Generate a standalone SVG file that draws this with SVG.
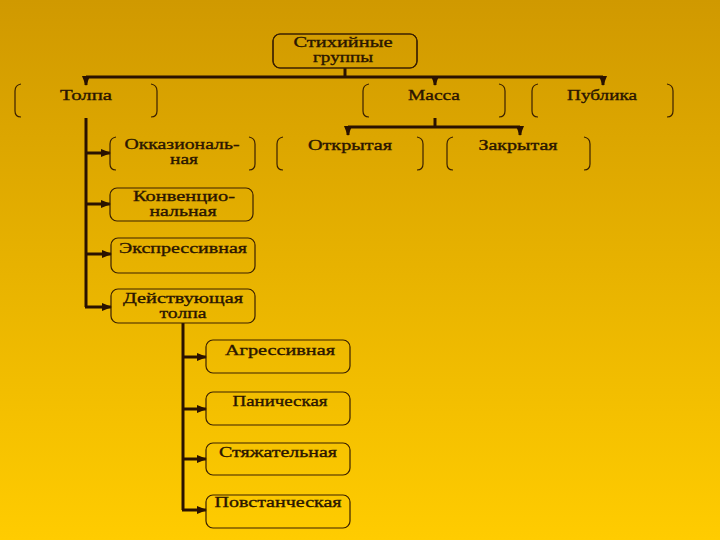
<svg xmlns="http://www.w3.org/2000/svg" width="720" height="540" viewBox="0 0 720 540">
<defs>
<linearGradient id="bg" x1="0" y1="0" x2="0" y2="1">
<stop offset="0" stop-color="#d09900"/>
<stop offset="1" stop-color="#ffcc00"/>
</linearGradient>
<marker id="arr" markerUnits="userSpaceOnUse" markerWidth="10" markerHeight="10" viewBox="0 0 10 10" refX="9" refY="5" orient="auto">
<path d="M0,1 L10,5 L0,9 Z" fill="#2a1200"/>
</marker>
<style>
.t{font-family:"Liberation Serif","Times New Roman",serif;font-size:15px;fill:#2b1600;stroke:#2b1600;stroke-width:0.35;text-anchor:middle}
.c{stroke:#2a1200;stroke-width:3;fill:none}
.a{stroke:#2a1200;stroke-width:3;fill:none;marker-end:url(#arr)}
.br{stroke:#3a2000;stroke-width:1.2;fill:none}
.box{stroke:#3a2000;stroke-width:1.2;fill:none}
</style>
</defs>
<rect width="720" height="540" fill="url(#bg)"/>

<g id="connectors">
<path class="c" d="M345,68 V77"/>
<path class="c" d="M86,77 H603"/>
<path class="a" d="M86,76 V85"/>
<path class="a" d="M435,76 V85"/>
<path class="a" d="M603,76 V85"/>
<path class="c" d="M435,118 V127"/>
<path class="c" d="M348,127 H520"/>
<path class="a" d="M348,126 V135"/>
<path class="a" d="M520,126 V135"/>
<path class="c" d="M86,118 V307"/>
<path class="a" d="M85,153 H110"/>
<path class="a" d="M85,204 H110"/>
<path class="a" d="M85,254 H111"/>
<path class="a" d="M85,307 H111"/>
<path class="c" d="M183,323 V510"/>
<path class="a" d="M182,357 H206"/>
<path class="a" d="M182,409 H206"/>
<path class="a" d="M182,459 H206"/>
<path class="a" d="M182,510 H206"/>
</g>

<g id="stikhiynye">
<rect class="box" x="273" y="34" width="144" height="34" rx="7" stroke="#fff2b0" stroke-width="2.5"/>
<rect class="box" x="273" y="34" width="144" height="34" rx="7"/>
<text class="t" x="343" y="47" textLength="99" lengthAdjust="spacingAndGlyphs">Стихийные</text>
<text class="t" x="343" y="62" textLength="60" lengthAdjust="spacingAndGlyphs">группы</text>
</g>

<g id="tolpa">
<path class="br" d="M21,84 Q15,85 15,91 V111 Q15,117 21,117"/>
<path class="br" d="M151,84 Q157,85 157,91 V111 Q157,117 151,117"/>
<text class="t" x="86" y="100" textLength="52" lengthAdjust="spacingAndGlyphs">Толпа</text>
</g>

<g id="massa">
<path class="br" d="M369,84 Q363,85 363,91 V111 Q363,117 369,117"/>
<path class="br" d="M499,84 Q505,85 505,91 V111 Q505,117 499,117"/>
<text class="t" x="434" y="100" textLength="52" lengthAdjust="spacingAndGlyphs">Масса</text>
</g>

<g id="publika">
<path class="br" d="M538,84 Q532,85 532,91 V111 Q532,117 538,117"/>
<path class="br" d="M667,84 Q673,85 673,91 V111 Q673,117 667,117"/>
<text class="t" x="602" y="100" textLength="70" lengthAdjust="spacingAndGlyphs">Публика</text>
</g>

<g id="otkrytaya">
<path class="br" d="M283,137 Q277,138 277,144 V164 Q277,170 283,170"/>
<path class="br" d="M417,137 Q423,138 423,144 V164 Q423,170 417,170"/>
<text class="t" x="350" y="150" textLength="84" lengthAdjust="spacingAndGlyphs">Открытая</text>
</g>

<g id="zakrytaya">
<path class="br" d="M453,137 Q447,138 447,144 V164 Q447,170 453,170"/>
<path class="br" d="M584,137 Q590,138 590,144 V164 Q590,170 584,170"/>
<text class="t" x="518" y="150" textLength="79" lengthAdjust="spacingAndGlyphs">Закрытая</text>
</g>

<g id="okkazionalnaya">
<path class="br" d="M116,137 Q110,138 110,144 V164 Q110,170 116,170"/>
<path class="br" d="M249,137 Q255,138 255,144 V164 Q255,170 249,170"/>
<text class="t" x="182" y="149" textLength="115" lengthAdjust="spacingAndGlyphs">Окказиональ-</text>
<text class="t" x="184" y="164" textLength="28" lengthAdjust="spacingAndGlyphs">ная</text>
</g>

<g id="konventsionalnaya">
<rect class="box" x="110" y="188" width="143" height="33" rx="7"/>
<text class="t" x="184" y="201" textLength="102" lengthAdjust="spacingAndGlyphs">Конвенцио-</text>
<text class="t" x="183" y="216" textLength="67" lengthAdjust="spacingAndGlyphs">нальная</text>
</g>

<g id="ekspressivnaya">
<rect class="box" x="111" y="238" width="144" height="35" rx="7"/>
<text class="t" x="183" y="253" textLength="128" lengthAdjust="spacingAndGlyphs">Экспрессивная</text>
</g>

<g id="deystvuyushchaya">
<rect class="box" x="111" y="289" width="144" height="34" rx="7"/>
<text class="t" x="183" y="303" textLength="120" lengthAdjust="spacingAndGlyphs">Действующая</text>
<text class="t" x="183" y="318" textLength="47" lengthAdjust="spacingAndGlyphs">толпа</text>
</g>

<g id="agressivnaya">
<rect class="box" x="206" y="340" width="144" height="33" rx="7"/>
<text class="t" x="280" y="355" textLength="110" lengthAdjust="spacingAndGlyphs">Агрессивная</text>
</g>

<g id="panicheskaya">
<rect class="box" x="206" y="392" width="144" height="33" rx="7"/>
<text class="t" x="280" y="406" textLength="95" lengthAdjust="spacingAndGlyphs">Паническая</text>
</g>

<g id="styazhatelnaya">
<rect class="box" x="206" y="443" width="144" height="32" rx="7"/>
<text class="t" x="278" y="457" textLength="118" lengthAdjust="spacingAndGlyphs">Стяжательная</text>
</g>

<g id="povstancheskaya">
<rect class="box" x="206" y="495" width="144" height="33" rx="7"/>
<text class="t" x="278" y="507" textLength="127" lengthAdjust="spacingAndGlyphs">Повстанческая</text>
</g>
</svg>
